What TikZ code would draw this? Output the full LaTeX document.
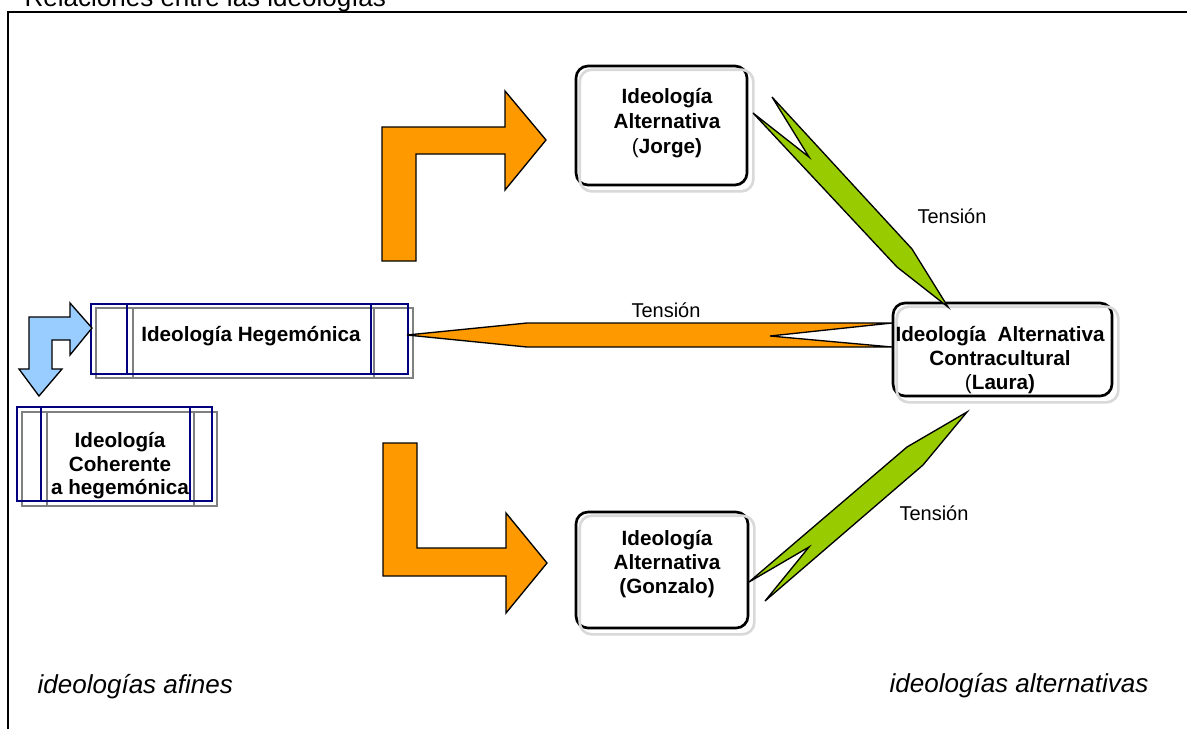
\documentclass[tikz,border=0pt]{standalone}
\usepackage{fontspec}
\setmainfont{Liberation Sans}

\definecolor{naranja}{HTML}{FF9900}
\definecolor{verde}{HTML}{99CC00}
\definecolor{celeste}{HTML}{99CCFF}
\definecolor{marino}{HTML}{000080}
\definecolor{sombra}{HTML}{D9D9D9}

\begin{document}
\begin{tikzpicture}[x=0.75pt, y=-0.75pt,
  caja/.style={draw=black, line width=2pt, rounded corners=9pt, fill=white, inner sep=0},
  sombracaja/.style={draw=sombra, line width=2pt, rounded corners=9pt},
  proceso/.style={draw=marino, line width=1.7pt, inner sep=0},
  sombragris/.style={draw=gray, line width=2.2pt},
  negrita/.style={font=\fontsize{15.5}{18}\selectfont\bfseries, align=center},
  bloque/.style={draw=black, line width=1pt, line join=miter},
  etiqueta/.style={font=\fontsize{15}{18}\selectfont},
  cursiva/.style={font=\fontsize{19.5}{23}\selectfont\itshape, anchor=base west}]

\useasboundingbox (0,0) rectangle (1187,729);

\draw[line width=1.5pt] (8,729) -- (8,12) -- (1187,12);
\node[anchor=base west, font=\fontsize{19.5}{23}\selectfont] (titulo) at (20,6) {Relaciones entre las ideologías};

\draw[sombragris] (96,308) rectangle (413,378) (133,308) -- (133,378) (374,308) -- (374,378);
\draw[sombragris] (22,412) rectangle (217,506) (47,412) -- (47,506) (194,412) -- (194,506);

\node[proceso, minimum width=237.75pt, minimum height=52.5pt] (hege) at (249.5,339) {};
\draw[marino, line width=1.7pt] ([shift={(37,0)}]hege.north west) -- ([shift={(37,0)}]hege.south west)
  ([shift={(-38,0)}]hege.north east) -- ([shift={(-38,0)}]hege.south east);
\node[negrita] (hegetexto) at (251,336) {Ideología Hegemónica};

\node[proceso, minimum width=146.25pt, minimum height=70.5pt] (coherente) at (114.5,454) {};
\draw[marino, line width=1.7pt] ([shift={(25,0)}]coherente.north west) -- ([shift={(25,0)}]coherente.south west)
  ([shift={(-23,0)}]coherente.north east) -- ([shift={(-23,0)}]coherente.south east);
\node[negrita, font=\fontsize{15.5}{17.6}\selectfont\bfseries] (coherentetexto) at (120,466) {Ideología\\Coherente\\a hegemónica};

\draw[bloque, fill=celeste] (29,369) -- (29,317) -- (70,317) -- (70,303) -- (92,328) -- (70,355) -- (70,340)
  -- (52,340) -- (52,369) -- (62,369) -- (39,396) -- (19,369) -- cycle;

\draw[bloque, fill=naranja] (382,261) -- (382,127) -- (505,127) -- (505,91) -- (546,140) -- (505,190)
  -- (505,154) -- (416,154) -- (416,261) -- cycle;
\draw[bloque, fill=naranja] (383,443) -- (417,443) -- (417,548) -- (506,548) -- (506,513) -- (547,563)
  -- (506,613) -- (506,576) -- (383,576) -- cycle;

\node[caja, minimum width=128.25pt, minimum height=89.25pt] (jorge) at (661.5,125.5) {};
\draw[sombracaja] ([shift={(5,5)}]jorge.south west) rectangle ([shift={(5,5)}]jorge.north east);
\node[negrita, font=\fontsize{15.5}{19}\selectfont\bfseries] (jorgetexto) at (667,123) {Ideología\\Alternativa\\{\mdseries(}Jorge)};

\node[caja, minimum width=129pt, minimum height=87pt] (gonzalo) at (662,570) {};
\draw[sombracaja] ([shift={(5,5)}]gonzalo.south west) rectangle ([shift={(5,5)}]gonzalo.north east);
\node[negrita] (gonzalotexto) at (667,564) {Ideología\\Alternativa\\(Gonzalo)};

\node[caja, minimum width=164.25pt, minimum height=69.75pt] (laura) at (1002.5,349.5) {};
\draw[sombracaja] ([shift={(5,5)}]laura.south west) rectangle ([shift={(5,5)}]laura.north east);
\node[negrita] (lauratexto) at (1000,360) {Ideología\ \ Alternativa\\Contracultural\\{\mdseries(}Laura)};

\draw[bloque, fill=naranja] (407,335) -- (527,323) -- (892,323) -- (770,336) -- (892,347) -- (527,347) -- cycle;
\draw[bloque, fill=verde] (772,97) -- (809,157) -- (753,113) -- (897,267) -- (948,307) -- (912,249) -- cycle;
\draw[bloque, fill=verde] (749,582) -- (907,447) -- (967,412) -- (923,465) -- (765,601) -- (809,547) -- cycle;

\node[etiqueta, anchor=base] (tensionmedio) at (666,317) {Tensión};
\node[etiqueta, anchor=base] (tensionarriba) at (952,223) {Tensión};
\node[etiqueta, anchor=base] (tensionabajo) at (934,520) {Tensión};

\node[cursiva] (afines) at (33,693) {ideologías afines};
\node[cursiva] (alternativas) at (885,692) {ideologías alternativas};

\end{tikzpicture}
\end{document}
